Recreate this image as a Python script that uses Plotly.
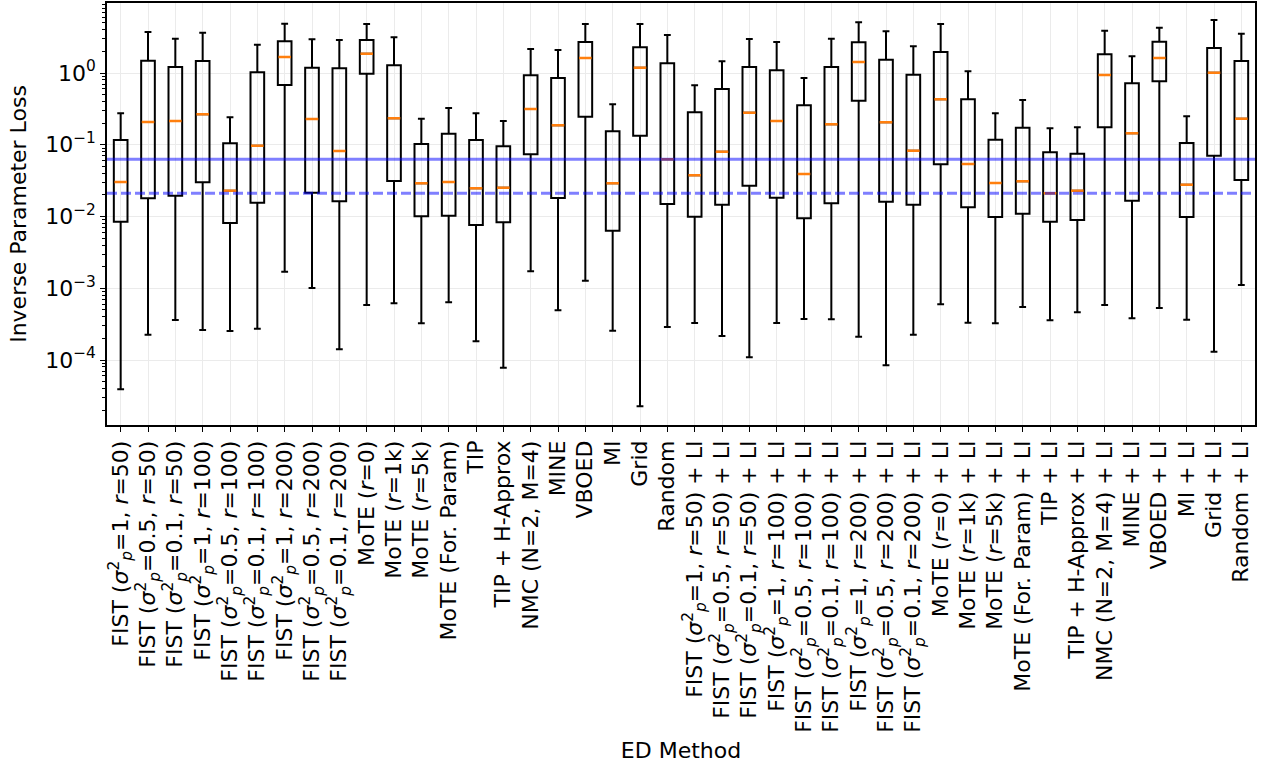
import plotly.graph_objects as go

categories = [
    "FIST (<i>σ</i><sup>2</sup><sub><i>p</i></sub>=1, <i>r</i>=50)",
    "FIST (<i>σ</i><sup>2</sup><sub><i>p</i></sub>=0.5, <i>r</i>=50)",
    "FIST (<i>σ</i><sup>2</sup><sub><i>p</i></sub>=0.1, <i>r</i>=50)",
    "FIST (<i>σ</i><sup>2</sup><sub><i>p</i></sub>=1, <i>r</i>=100)",
    "FIST (<i>σ</i><sup>2</sup><sub><i>p</i></sub>=0.5, <i>r</i>=100)",
    "FIST (<i>σ</i><sup>2</sup><sub><i>p</i></sub>=0.1, <i>r</i>=100)",
    "FIST (<i>σ</i><sup>2</sup><sub><i>p</i></sub>=1, <i>r</i>=200)",
    "FIST (<i>σ</i><sup>2</sup><sub><i>p</i></sub>=0.5, <i>r</i>=200)",
    "FIST (<i>σ</i><sup>2</sup><sub><i>p</i></sub>=0.1, <i>r</i>=200)",
    "MoTE (<i>r</i>=0)",
    "MoTE (<i>r</i>=1k)",
    "MoTE (<i>r</i>=5k)",
    "MoTE (For. Param)",
    "TIP",
    "TIP + H-Approx",
    "NMC (N=2, M=4)",
    "MINE",
    "VBOED",
    "MI",
    "Grid",
    "Random",
    "FIST (<i>σ</i><sup>2</sup><sub><i>p</i></sub>=1, <i>r</i>=50) + LI",
    "FIST (<i>σ</i><sup>2</sup><sub><i>p</i></sub>=0.5, <i>r</i>=50) + LI",
    "FIST (<i>σ</i><sup>2</sup><sub><i>p</i></sub>=0.1, <i>r</i>=50) + LI",
    "FIST (<i>σ</i><sup>2</sup><sub><i>p</i></sub>=1, <i>r</i>=100) + LI",
    "FIST (<i>σ</i><sup>2</sup><sub><i>p</i></sub>=0.5, <i>r</i>=100) + LI",
    "FIST (<i>σ</i><sup>2</sup><sub><i>p</i></sub>=0.1, <i>r</i>=100) + LI",
    "FIST (<i>σ</i><sup>2</sup><sub><i>p</i></sub>=1, <i>r</i>=200) + LI",
    "FIST (<i>σ</i><sup>2</sup><sub><i>p</i></sub>=0.5, <i>r</i>=200) + LI",
    "FIST (<i>σ</i><sup>2</sup><sub><i>p</i></sub>=0.1, <i>r</i>=200) + LI",
    "MoTE (<i>r</i>=0) + LI",
    "MoTE (<i>r</i>=1k) + LI",
    "MoTE (<i>r</i>=5k) + LI",
    "MoTE (For. Param) + LI",
    "TIP + LI",
    "TIP + H-Approx + LI",
    "NMC (N=2, M=4) + LI",
    "MINE + LI",
    "VBOED + LI",
    "MI + LI",
    "Grid + LI",
    "Random + LI",
]

whisker_low = [3.9e-5, 2.25e-4, 3.61e-4, 2.62e-4, 2.54e-4, 2.73e-4, 1.70e-3, 1.008e-3, 1.41e-4,
               5.84e-4, 6.17e-4, 3.25e-4, 6.37e-4, 1.82e-4, 7.81e-5, 1.72e-3, 4.93e-4, 1.274e-3,
               2.56e-4, 2.26e-5, 2.88e-4,
               3.28e-4, 2.16e-4, 1.09e-4, 3.28e-4, 3.73e-4, 3.69e-4, 2.11e-4, 8.44e-5, 2.25e-4,
               5.97e-4, 3.31e-4, 3.25e-4, 5.48e-4, 3.58e-4, 4.62e-4, 5.84e-4, 3.81e-4, 5.3e-4,
               3.64e-4, 1.305e-4, 1.11e-3]
q1 = [0.00846, 0.01794, 0.0195, 0.02997, 0.00812, 0.01557, 0.6805, 0.02147, 0.01629,
      0.9778, 0.03126, 0.01006, 0.01026, 0.00761, 0.0083, 0.0736, 0.0181, 0.246,
      0.00634, 0.1337, 0.01494,
      0.00994, 0.0146, 0.02688, 0.01828, 0.00944, 0.01528, 0.4112, 0.01608, 0.0146,
      0.0534, 0.01343, 0.00984, 0.01094, 0.00846, 0.00894, 0.175, 0.0166, 0.766,
      0.00984, 0.0704, 0.0323]
median = [0.0303, 0.2075, 0.2143, 0.2657, 0.0229, 0.097, 1.671, 0.2285, 0.0818,
          1.858, 0.2337, 0.02903, 0.0303, 0.0247, 0.0252, 0.315, 0.1867, 1.618,
          0.02903, 1.185, 0.0627,
          0.0375, 0.08, 0.2797, 0.2143, 0.0391, 0.1928, 1.423, 0.2056, 0.0826,
          0.43, 0.0539, 0.02931, 0.03095, 0.02106, 0.0229, 0.938, 0.1444, 1.618,
          0.02774, 1.01, 0.2307]
q3 = [0.1165, 1.484, 1.212, 1.47, 0.1048, 1.023, 2.766, 1.185, 1.163,
      2.884, 1.28, 0.1024, 0.1426, 0.1165, 0.0951, 0.929, 0.852, 2.704,
      0.154, 2.282, 1.365,
      0.2833, 0.5984, 1.212, 1.091, 0.3546, 1.212, 2.679, 1.532, 0.947,
      1.962, 0.43, 0.1176, 0.1729, 0.0785, 0.075, 1.822, 0.7187, 2.731,
      0.1058, 2.231, 1.47]
whisker_high = [0.274, 3.73, 3.01, 3.65, 0.2413, 2.48, 4.87, 2.95, 2.884,
                4.82, 3.145, 0.2307, 0.3252, 0.274, 0.2143, 2.16, 2.093, 4.82,
                0.3663, 4.82, 3.385,
                0.674, 1.456, 2.978, 2.704, 0.852, 3.01, 5.09, 3.813, 2.356,
                4.82, 1.056, 0.274, 0.4205, 0.1696, 0.175, 3.887, 1.709, 4.279,
                0.2492, 5.48, 3.53]

ref_solid = 0.0627
ref_dashed = 0.02106

positions = list(range(1, len(categories) + 1))

FONT = "DejaVu Sans"

fig = go.Figure()

fig.add_trace(go.Box(
    x=positions, q1=q1, median=median, q3=q3,
    lowerfence=whisker_low, upperfence=whisker_high,
    width=0.5, whiskerwidth=0.5,
    line=dict(color="black", width=2),
    fillcolor="rgba(0,0,0,0)",
    boxpoints=False, showlegend=False, hoverinfo="skip",
))

# orange median lines
fig.add_trace(go.Box(
    x=positions, q1=median, median=median, q3=median,
    lowerfence=median, upperfence=median,
    width=0.46, whiskerwidth=0.0,
    line=dict(color="#ff7f0e", width=2.5),
    fillcolor="rgba(0,0,0,0)",
    boxpoints=False, showlegend=False, hoverinfo="skip",
))

xmin, xmax = 0.5, len(categories) + 0.5
fig.add_trace(go.Scatter(
    x=[xmin, xmax], y=[ref_solid, ref_solid], mode="lines",
    line=dict(color="rgba(0,0,255,0.5)", width=3),
    showlegend=False, hoverinfo="skip",
))
fig.add_trace(go.Scatter(
    x=[xmin, xmax], y=[ref_dashed, ref_dashed], mode="lines",
    line=dict(color="rgba(0,0,255,0.5)", width=3, dash="10px,4px"),
    showlegend=False, hoverinfo="skip",
))

major = [1e-4, 1e-3, 1e-2, 1e-1, 1e0]
major_text = ["10<sup>−4</sup>", "10<sup>−3</sup>", "10<sup>−2</sup>", "10<sup>−1</sup>", "10<sup>0</sup>"]
minor_vals = [k * 10.0 ** e for e in range(-5, 1) for k in range(2, 10)]

fig.update_layout(
    width=1265, height=770,
    margin=dict(l=107, r=10, t=3, b=345),
    paper_bgcolor="white", plot_bgcolor="white",
    font=dict(family=FONT, size=22, color="black"),
    boxmode="overlay",
    xaxis=dict(
        range=[xmin, xmax], automargin=False,
        tickmode="array", tickvals=positions, ticktext=categories,
        tickangle=-90, tickfont=dict(family=FONT, size=22, color="black"),
        ticks="outside", ticklen=5, tickwidth=1.3, tickcolor="black",
        showgrid=True, gridcolor="#ebebeb", gridwidth=1,
        showline=True, linecolor="black", linewidth=1.5, mirror=True,
        zeroline=False,
        title=dict(text="ED Method", font=dict(family=FONT, size=22, color="black"), standoff=11),
    ),
    yaxis=dict(
        type="log", automargin=False,
        range=[-4.906, 0.976],
        tickmode="array", tickvals=major, ticktext=major_text,
        tickfont=dict(family=FONT, size=22, color="black"),
        ticks="outside", ticklen=5, tickwidth=1.3, tickcolor="black",
        showgrid=True, gridcolor="#ebebeb", gridwidth=1,
        showline=True, linecolor="black", linewidth=1.5, mirror=True,
        zeroline=False,
        minor=dict(tickmode="array", tickvals=minor_vals, ticks="outside",
                   ticklen=3, tickwidth=1, tickcolor="black", showgrid=False),
        title=dict(text="Inverse Parameter Loss", font=dict(family=FONT, size=22, color="black"), standoff=12),
    ),
)

fig.write_html("out.html", config={"displayModeBar": False},
               post_script="document.body.style.margin='0';")
